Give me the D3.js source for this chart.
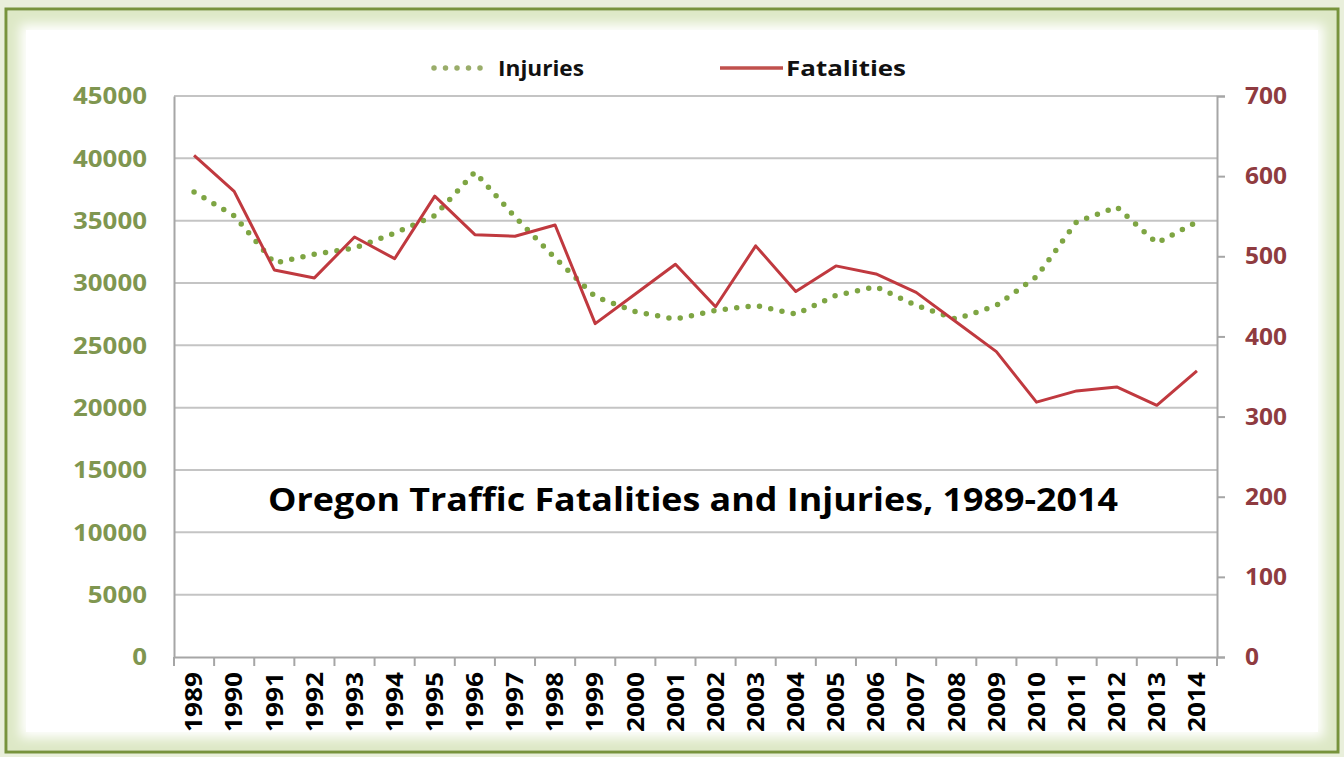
<!DOCTYPE html>
<html><head><meta charset="utf-8">
<script src="https://cdn.jsdelivr.net/npm/d3@7"></script>
<style>
html,body{margin:0;padding:0;background:#e9efdb;}
svg{display:block;}
text{font-family:"Open Sans","Liberation Sans",sans-serif;font-weight:bold;}
</style></head>
<body>
<svg id="c" width="1344" height="757"></svg>
<script>
const years = [1989,1990,1991,1992,1993,1994,1995,1996,1997,1998,1999,2000,2001,2002,2003,2004,2005,2006,2007,2008,2009,2010,2011,2012,2013,2014];
const injuries = [37300,35400,31600,32300,32800,34000,35400,38900,35300,32000,28900,27700,27100,27800,28200,27500,29000,29700,28200,27100,28200,30500,34900,36100,33200,34900];
const fatalities = [626,581,483,473,524,497,575,527,525,539,416,453,490,437,513,456,488,478,455,418,381,318,332,337,314,357];
const leftTicks = [0,5000,10000,15000,20000,25000,30000,35000,40000,45000];
const rightTicks = [0,100,200,300,400,500,600,700];
const seriesNames = ["Injuries","Fatalities"];
const titleText = "Oregon Traffic Fatalities and Injuries, 1989-2014";

const svg = d3.select("#c");
const defs = svg.append("defs");

// frame
svg.append("rect").attr("x",0).attr("y",0).attr("width",1344).attr("height",757).attr("fill","#e9efdb");
svg.append("rect").attr("x",6).attr("y",9).attr("width",1332).attr("height",743).attr("fill","#eef3e2").attr("stroke","#77933c").attr("stroke-width",3);
const f = defs.append("filter").attr("id","blur").attr("x","-5%").attr("y","-5%").attr("width","110%").attr("height","110%");
f.append("feGaussianBlur").attr("stdDeviation",6);
svg.append("rect").attr("x",8).attr("y",11).attr("width",1328).attr("height",739).attr("fill","#dde8c6");
svg.append("rect").attr("x",20).attr("y",24).attr("width",1304).attr("height",714).attr("fill","#ffffff").attr("filter","url(#blur)");
svg.append("rect").attr("x",26).attr("y",30).attr("width",1292).attr("height",702).attr("fill","#ffffff");

const L=174, R=1217, T=96, B=657;
const x = d3.scaleBand().domain(years).range([L,R]);
const yL = d3.scaleLinear().domain([0,45000]).range([B,T]);
const yR = d3.scaleLinear().domain([0,700]).range([B,T]);

// gridlines
svg.append("g").selectAll("line").data(leftTicks.filter(d=>d>0)).join("line")
  .attr("x1",L).attr("x2",R).attr("y1",d=>yL(d)).attr("y2",d=>yL(d))
  .attr("stroke","#c4c4c4").attr("stroke-width",2);

// left axis
const axL = svg.append("g").attr("transform",`translate(${L},0)`)
  .call(d3.axisLeft(yL).tickValues(leftTicks).tickSize(0).tickPadding(27).tickFormat(d3.format("d")));
axL.select(".domain").attr("stroke","#a6a6a6").attr("stroke-width",2);
axL.selectAll("text").attr("fill","#7f9650").attr("font-size",24).attr("font-family","Open Sans").attr("font-weight","bold")
  .attr("textLength",d=>String(d).length*14.8).attr("lengthAdjust","spacingAndGlyphs");

// right axis
const axR = svg.append("g").attr("transform",`translate(${R},0)`)
  .call(d3.axisRight(yR).tickValues(rightTicks).tickSize(8).tickPadding(20).tickFormat(d3.format("d")));
axR.select(".domain").attr("stroke","#a6a6a6").attr("stroke-width",2);
axR.selectAll("line").attr("stroke","#a6a6a6").attr("stroke-width",2);
axR.selectAll("text").attr("fill","#8f3b40").attr("font-size",24).attr("font-family","Open Sans").attr("font-weight","bold")
  .attr("textLength",d=>String(d).length*14).attr("lengthAdjust","spacingAndGlyphs");

// bottom axis
const axB = svg.append("g").attr("transform",`translate(0,${B})`)
  .call(d3.axisBottom(x).tickSize(0).tickPadding(0));
axB.select(".domain").attr("stroke","#a6a6a6").attr("stroke-width",2);
axB.selectAll(".tick text").attr("transform","rotate(-90)").attr("text-anchor","end")
  .attr("x",-15).attr("y",0).attr("dy","0.36em").attr("fill","#000").attr("font-size",23).attr("font-family","Open Sans").attr("font-weight","bold")
  .attr("textLength",60).attr("lengthAdjust","spacingAndGlyphs");
// category boundary ticks
const bounds = years.map(d=>x(d)).concat([R]);
axB.selectAll(".btick").data(bounds).join("line").attr("class","btick")
  .attr("x1",d=>d).attr("x2",d=>d).attr("y1",0).attr("y2",9).attr("stroke","#a6a6a6").attr("stroke-width",2);

// lines
const cx = d=>x(d)+x.bandwidth()/2;
const injLine = d3.line().x((d,i)=>cx(years[i])).y(d=>yL(d));
const fatLine = d3.line().x((d,i)=>cx(years[i])).y(d=>yR(d));
svg.append("path").datum(injuries).attr("d",injLine).attr("fill","none")
  .attr("stroke","#7ea543").attr("stroke-width",5.5).attr("stroke-linecap","round").attr("stroke-dasharray","0,11.5");
svg.append("path").datum(fatalities).attr("d",fatLine).attr("fill","none")
  .attr("stroke","#c0393f").attr("stroke-width",3).attr("stroke-linejoin","round");

// legend
const leg = svg.append("g");
leg.append("line").attr("x1",434).attr("x2",490).attr("y1",68).attr("y2",68)
  .attr("stroke","#9aad6a").attr("stroke-width",5.5).attr("stroke-linecap","round").attr("stroke-dasharray","0,11.5");
leg.append("text").attr("x",498).attr("y",76).attr("font-size",22).attr("fill","#111")
  .attr("textLength",86).attr("lengthAdjust","spacingAndGlyphs").text(seriesNames[0]);
leg.append("line").attr("x1",720).attr("x2",783).attr("y1",68).attr("y2",68)
  .attr("stroke","#c0504d").attr("stroke-width",3.5);
leg.append("text").attr("x",786).attr("y",76).attr("font-size",22).attr("fill","#111")
  .attr("textLength",120).attr("lengthAdjust","spacingAndGlyphs").text(seriesNames[1]);

// title
svg.append("text").attr("x",693).attr("y",511).attr("text-anchor","middle")
  .attr("font-size",33).attr("fill","#000").attr("textLength",850).attr("lengthAdjust","spacingAndGlyphs")
  .text(titleText);
</script>
</body></html>
